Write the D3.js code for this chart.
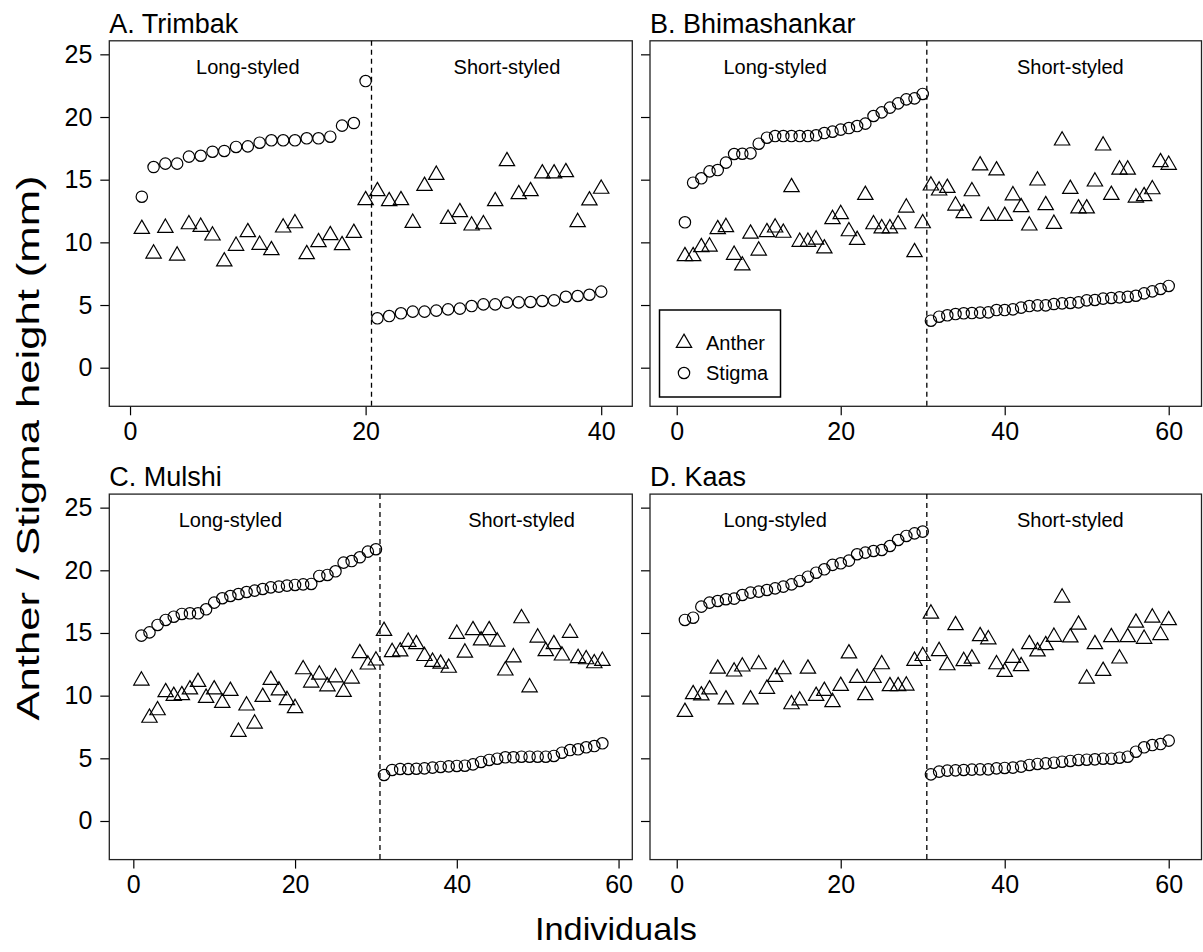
<!DOCTYPE html>
<html><head><meta charset="utf-8">
<script src="https://cdn.jsdelivr.net/npm/d3@7"></script>
<style>body{margin:0;background:#fff}svg{display:block}text{font-family:"Liberation Sans",Arial,sans-serif;fill:#000}</style>
</head><body>
<script>
// ---- data (individual index = position in array + 1) ----
const yTicks = [0, 5, 10, 15, 20, 25];
const groupLabels = ["Long-styled", "Short-styled"];
const legendLabels = ["Anther", "Stigma"];

const trimbakAnther = [11.07,9.10,11.15,8.94,11.44,11.23,10.54,8.47,9.72,10.81,9.80,9.37,11.18,11.52,9.05,10.01,10.57,9.77,10.75,13.36,
  14.08,13.28,13.36,11.55,14.50,15.38,11.87,12.40,11.34,11.44,13.28,16.47,13.84,14.08,15.49,15.49,15.59,11.61,13.34,14.27];
const trimbakStigma = [13.64,16.01,16.28,16.28,16.84,16.91,17.23,17.29,17.61,17.66,17.95,18.14,18.14,18.14,18.30,18.30,18.43,19.31,19.52,22.87,
  3.94,4.12,4.34,4.47,4.47,4.55,4.65,4.71,4.92,5.05,5.05,5.19,5.21,5.24,5.32,5.37,5.66,5.72,5.82,6.07];

const bhimaAnther = [8.89,8.89,9.61,9.66,11.05,11.21,9.00,8.15,10.69,9.34,10.81,11.18,10.76,14.40,10.04,10.04,10.22,9.51,11.85,12.25,10.88,10.19,13.78,11.44,11.11,11.11,11.44,12.77,9.21,11.52,
  14.53,14.13,14.34,12.93,12.32,14.07,16.13,12.10,15.73,12.10,13.75,12.80,11.34,14.93,12.96,11.47,18.12,14.26,12.70,12.70,14.85,17.72,13.78,15.80,15.80,13.57,13.68,14.23,16.39,16.18];
const bhimaStigma = [11.60,14.76,15.11,15.66,15.77,16.36,17.05,17.07,17.10,17.87,18.35,18.48,18.48,18.48,18.48,18.48,18.54,18.72,18.83,18.99,19.12,19.28,19.47,20.08,20.37,20.75,21.09,21.41,21.49,21.84,
  3.75,4.07,4.18,4.28,4.34,4.36,4.39,4.41,4.60,4.60,4.65,4.79,4.92,4.97,4.97,5.08,5.13,5.16,5.21,5.37,5.40,5.51,5.56,5.61,5.66,5.74,5.93,6.09,6.28,6.52];

const mulshiAnther = [11.20,8.23,8.83,10.27,9.97,10.03,10.49,11.09,9.82,10.49,9.42,10.37,7.11,9.21,7.77,9.89,11.25,10.41,9.64,9.00,12.10,11.04,11.68,10.74,11.46,10.30,11.36,13.38,12.48,12.80,
  15.16,13.47,13.52,14.29,14.10,13.16,12.69,12.55,12.22,14.93,13.43,15.22,14.40,15.22,14.31,12.00,13.05,16.17,10.66,14.63,13.54,14.10,13.20,15.01,12.99,12.90,12.58,12.77];
const mulshiStigma = [14.79,15.05,15.64,16.04,16.30,16.52,16.57,16.57,16.89,17.42,17.77,17.95,18.11,18.27,18.38,18.51,18.64,18.70,18.78,18.83,18.88,18.91,19.55,19.63,19.92,20.61,20.74,21.04,21.49,21.68,
  3.67,4.07,4.15,4.15,4.17,4.20,4.26,4.31,4.36,4.39,4.41,4.52,4.71,4.87,4.97,5.08,5.08,5.13,5.13,5.13,5.13,5.19,5.45,5.66,5.72,5.88,5.98,6.20];

const kaasAnther = [8.70,10.11,10.01,10.49,12.15,9.69,11.92,12.32,9.69,12.50,10.54,11.49,12.10,9.31,9.61,12.15,9.97,10.37,9.48,10.77,13.36,11.41,10.03,11.42,12.50,10.75,10.75,10.80,12.77,13.16,
  16.54,13.55,12.42,15.62,12.75,12.95,14.74,14.49,12.50,11.89,13.01,12.35,14.10,13.52,14.02,14.69,17.82,14.64,15.66,11.36,14.10,11.97,14.66,12.96,14.66,15.82,14.53,16.22,14.83,16.02];
const kaasStigma = [16.04,16.22,17.10,17.42,17.55,17.69,17.74,18.03,18.22,18.30,18.43,18.56,18.70,18.88,19.15,19.49,19.81,20.08,20.43,20.56,20.77,21.28,21.41,21.54,21.62,21.94,22.42,22.74,22.95,23.09,
  3.72,3.94,4.02,4.04,4.07,4.10,4.12,4.12,4.20,4.23,4.26,4.34,4.47,4.55,4.60,4.65,4.73,4.79,4.87,4.89,4.92,4.97,4.97,5.05,5.13,5.53,5.88,6.06,6.14,6.41];

const panelTitles = ["A. Trimbak", "B. Bhimashankar", "C. Mulshi", "D. Kaas"];
const splitPoints = [20.5, 30.5, 30.5, 30.5];
const xTickSets = [[0,20,40],[0,20,40,60],[0,20,40,60],[0,20,40,60]];
const groupLabelX = [[10,32],[12,48],[12,48],[12,48]];

// ---- layout ----
const W = 1203, H = 952;
const svg = d3.select("body").append("svg").attr("width", W).attr("height", H);
svg.append("rect").attr("width", W).attr("height", H).attr("fill", "#fff");

const layouts = [
  {xd:[-1.76,42.64], xr:[109.3,632.3], yr:[406.3,40.8], yLab:true},
  {xd:[-3.26,64.0], xr:[650,1201.5], yr:[406.3,40.8], yLab:false},
  {xd:[-2.97,61.7], xr:[109.3,632.3], yr:[859.6,494.1], yLab:true},
  {xd:[-3.26,64.0], xr:[650,1201.5], yr:[859.6,494.1], yLab:false}
];
const anthers = [trimbakAnther, bhimaAnther, mulshiAnther, kaasAnther];
const stigmas = [trimbakStigma, bhimaStigma, mulshiStigma, kaasStigma];

const R = 5.7;
const triPath = (() => {
  const xc = 1.347 * R, r = 1.555 * R, yc = 0.778 * R;
  return `M0,${-r}L${xc},${yc}L${-xc},${yc}Z`;
})();
const SW = 1.2;

layouts.forEach((L, p) => {
  const x = d3.scaleLinear().domain(L.xd).range(L.xr);
  const y = d3.scaleLinear().domain([-3.08, 26.08]).range(L.yr);
  const g = svg.append("g");

  // axes
  const yAx = d3.axisLeft(y).tickValues(yTicks).tickSize(9).tickPadding(8).tickFormat(d3.format("d"));
  const ga = g.append("g").attr("transform", `translate(${L.xr[0]},0)`).call(yAx);
  ga.select(".domain").remove();
  ga.selectAll("line").attr("stroke", "#000").attr("stroke-width", 1.2);
  ga.selectAll("text").style("font-size", "25px").attr("fill", "#000");
  if (!L.yLab) ga.selectAll("text").remove();

  const xAx = d3.axisBottom(x).tickValues(xTickSets[p]).tickSize(9).tickPadding(7).tickFormat(d3.format("d"));
  const gx = g.append("g").attr("transform", `translate(0,${L.yr[0]})`).call(xAx);
  gx.select(".domain").remove();
  gx.selectAll("line").attr("stroke", "#000").attr("stroke-width", 1.2);
  gx.selectAll("text").style("font-size", "25px").attr("fill", "#000");

  // box
  g.append("rect").attr("x", L.xr[0]).attr("y", L.yr[1])
    .attr("width", L.xr[1] - L.xr[0]).attr("height", L.yr[0] - L.yr[1])
    .attr("fill", "none").attr("stroke", "#222").attr("stroke-width", 1.3);

  // split line
  g.append("line").attr("x1", x(splitPoints[p])).attr("x2", x(splitPoints[p]))
    .attr("y1", L.yr[1]).attr("y2", L.yr[0])
    .attr("stroke", "#000").attr("stroke-width", 1.3).attr("stroke-dasharray", "5,4");

  // group labels
  groupLabels.forEach((t, i) => {
    g.append("text").attr("x", x(groupLabelX[p][i])).attr("y", y(24)).attr("dy", "0.35em")
      .attr("text-anchor", "middle").style("font-size", "20px").text(t);
  });

  // title
  g.append("text").attr("x", L.xr[0]).attr("y", L.yr[1] - 8).style("font-size", "27px").text(panelTitles[p]);

  // anther triangles
  g.append("g").selectAll("path").data(anthers[p]).join("path")
    .attr("d", triPath).attr("transform", (d, i) => `translate(${x(i + 1)},${y(d)})`)
    .attr("fill", "none").attr("stroke", "#000").attr("stroke-width", SW);
  // stigma circles
  g.append("g").selectAll("circle").data(stigmas[p]).join("circle")
    .attr("cx", (d, i) => x(i + 1)).attr("cy", d => y(d)).attr("r", R)
    .attr("fill", "none").attr("stroke", "#000").attr("stroke-width", SW);

  // legend in panel B
  if (p === 1) {
    const lg = g.append("g");
    lg.append("rect").attr("x", 659.5).attr("y", 310).attr("width", 121).attr("height", 87)
      .attr("fill", "#fff").attr("stroke", "#000").attr("stroke-width", 1.5);
    lg.append("path").attr("d", triPath).attr("transform", "translate(684,343)")
      .attr("fill", "none").attr("stroke", "#000").attr("stroke-width", SW);
    lg.append("circle").attr("cx", 684).attr("cy", 373).attr("r", R)
      .attr("fill", "none").attr("stroke", "#000").attr("stroke-width", SW);
    lg.append("text").attr("x", 706).attr("y", 343).attr("dy", "0.35em").style("font-size", "20px").text(legendLabels[0]);
    lg.append("text").attr("x", 706).attr("y", 373).attr("dy", "0.35em").style("font-size", "20px").text(legendLabels[1]);
  }
});

// axis titles
svg.append("text").attr("transform", "translate(39,448) rotate(-90)")
  .attr("text-anchor", "middle").style("font-size", "31px")
  .attr("textLength", 545).attr("lengthAdjust", "spacingAndGlyphs")
  .text("Anther / Stigma height (mm)");
svg.append("text").attr("x", 616).attr("y", 940)
  .attr("text-anchor", "middle").style("font-size", "32px")
  .attr("textLength", 162).attr("lengthAdjust", "spacingAndGlyphs")
  .text("Individuals");
</script>
</body></html>
